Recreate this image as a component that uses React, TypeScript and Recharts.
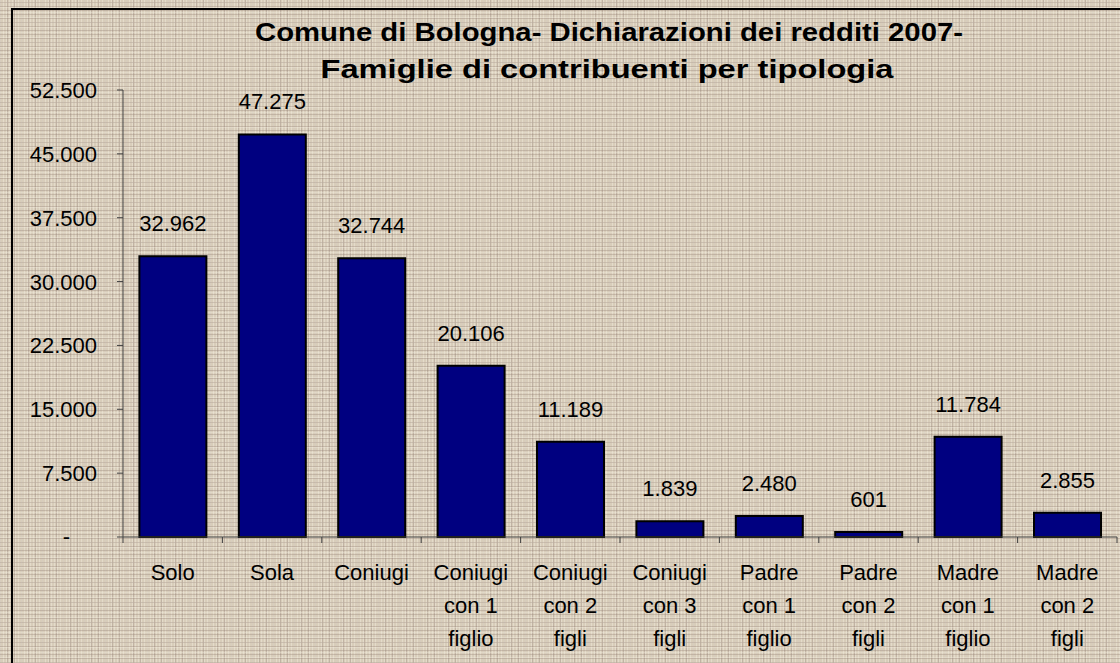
import { BarChart, Bar, XAxis, YAxis, LabelList } from 'recharts';

const categories = [
    'Solo',
    'Sola',
    'Coniugi',
    'Coniugi con 1 figlio',
    'Coniugi con 2 figli',
    'Coniugi con 3 figli',
    'Padre con 1 figlio',
    'Padre con 2 figli',
    'Madre con 1 figlio',
    'Madre con 2 figli',
];

const labelLines = [
    ['Solo'],
    ['Sola'],
    ['Coniugi'],
    ['Coniugi', 'con 1', 'figlio'],
    ['Coniugi', 'con 2', 'figli'],
    ['Coniugi', 'con 3', 'figli'],
    ['Padre', 'con 1', 'figlio'],
    ['Padre', 'con 2', 'figli'],
    ['Madre', 'con 1', 'figlio'],
    ['Madre', 'con 2', 'figli'],
];

const families = [32962, 47275, 32744, 20106, 11189, 1839, 2480, 601, 11784, 2855];

const yTicks = [0, 7500, 15000, 22500, 30000, 37500, 45000, 52500];

const data = categories.map((name, i) => ({ name, value: families[i] }));

const FONT = '"Liberation Sans", Arial, sans-serif';
const FS = 22;

// formato italiano: punto come separatore delle migliaia
const fmt = (v: number) => String(v).replace(/\B(?=(\d{3})+(?!\d))/g, '.');

const YTick = (props: any) => {
    const { x, y, payload } = props;
    if (payload.value === 0) {
        return (
            <text x={70} y={y} dy={7} textAnchor="end" fontSize={FS} fontFamily={FONT} fill="#000">-</text>
        );
    }
    return (
        <text x={x} y={y} dy={8} textAnchor="end" fontSize={FS} fontFamily={FONT} fill="#000">
            {fmt(payload.value)}
        </text>
    );
};

const XTick = (props: any) => {
    const { x, y, payload, index } = props;
    const half = payload.offset || 49.7;
    const lines = labelLines[index] || [payload.value];
    const axisY = y - 8;
    return (
        <g>
            <line x1={x - half} x2={x - half} y1={axisY} y2={axisY + 6} stroke="#404040" />
            {index === categories.length - 1 && (
                <line x1={x + half} x2={x + half} y1={axisY} y2={axisY + 6} stroke="#404040" />
            )}
            {lines.map((l: string, i: number) => (
                <text key={i} x={x} y={axisY + 43 + i * 33} textAnchor="middle" fontSize={FS} fontFamily={FONT} fill="#000">
                    {l}
                </text>
            ))}
        </g>
    );
};

const texture = {
    backgroundColor: '#d8cdba',
    backgroundImage:
        'repeating-linear-gradient(0deg, rgba(150,130,118,0.35) 0px, rgba(150,130,118,0.35) 1px, transparent 1px, transparent 4px),' +
        'repeating-linear-gradient(0deg, rgba(242,236,222,0.35) 0px, rgba(242,236,222,0.35) 1px, transparent 1px, transparent 5px),' +
        'repeating-linear-gradient(90deg, rgba(242,236,222,0.45) 0px, rgba(242,236,222,0.45) 1px, transparent 1px, transparent 3px),' +
        'repeating-linear-gradient(90deg, rgba(140,120,112,0.3) 0px, rgba(140,120,112,0.3) 1px, transparent 1px, transparent 7px)',
};

export default function App() {
    return (
        <div style={{ position: 'absolute', left: 0, top: 0, width: 1120, height: 663, overflow: 'hidden', ...texture }}>
            <div
                style={{
                    position: 'absolute',
                    left: 11,
                    top: 8,
                    width: 1200,
                    height: 700,
                    borderLeft: '2px solid #000',
                    borderTop: '2px solid #000',
                }}
            />
            <svg width={1120} height={100} style={{ position: 'absolute', left: 0, top: 0 }}>
                <text x={609} y={41} textAnchor="middle" fontFamily={FONT} fontWeight="bold" fontSize={26}
                    textLength={708} lengthAdjust="spacingAndGlyphs">
                    Comune di Bologna- Dichiarazioni dei redditi 2007-
                </text>
                <text x={607} y={78} textAnchor="middle" fontFamily={FONT} fontWeight="bold" fontSize={26}
                    textLength={573} lengthAdjust="spacingAndGlyphs">
                    Famiglie di contribuenti per tipologia
                </text>
            </svg>
            <div style={{ position: 'absolute', left: 0, top: 0 }}>
                <BarChart
                    width={1120}
                    height={663}
                    data={data}
                    margin={{ top: 90, right: 3, bottom: 0, left: 0 }}
                    barCategoryGap="16.5%"
                >
                    <XAxis
                        dataKey="name"
                        height={126}
                        interval={0}
                        tickLine={false}
                        axisLine={{ stroke: '#404040' }}
                        tick={<XTick />}
                    />
                    <YAxis
                        width={123}
                        domain={[0, 52500]}
                        ticks={yTicks}
                        interval={0}
                        tickSize={6}
                        tickMargin={20}
                        axisLine={{ stroke: '#404040' }}
                        tickLine={{ stroke: '#404040' }}
                        tick={<YTick />}
                    />
                    <Bar dataKey="value" fill="#000080" stroke="#000" strokeWidth={2} isAnimationActive={false}>
                        <LabelList
                            dataKey="value"
                            position="top"
                            offset={25}
                            formatter={(v: any) => fmt(Number(v))}
                            style={{ fontSize: FS, fontFamily: FONT, fill: '#000' }}
                        />
                    </Bar>
                </BarChart>
            </div>
        </div>
    );
}
